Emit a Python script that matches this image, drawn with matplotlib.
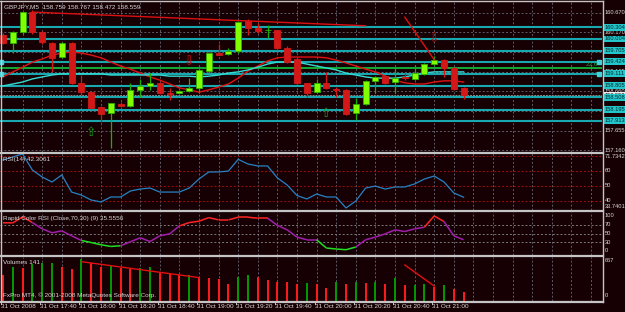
import matplotlib
matplotlib.use('Agg')
import matplotlib.pyplot as plt
import matplotlib.transforms as mtransforms
import matplotlib.font_manager as fm
from matplotlib.collections import LineCollection
from matplotlib.lines import Line2D

# ---------------- data ----------------
title_text = "GBPJPY,M5  158.759 158.767 158.472 158.559"
time_labels = ['31 Oct 2008', '31 Oct 17:40', '31 Oct 18:00', '31 Oct 18:20', '31 Oct 18:40',
               '31 Oct 19:00', '31 Oct 19:20', '31 Oct 19:40', '31 Oct 20:00', '31 Oct 20:20',
               '31 Oct 20:40', '31 Oct 21:00']
time_label_bars = [0, 4, 8, 12, 16, 20, 24, 28, 32, 36, 40, 44]

opens = [160.10, 159.90, 160.18, 160.69, 160.18, 159.90, 159.54, 159.90, 158.88, 158.64,
         158.26, 158.11, 158.34, 158.29, 158.70, 158.80, 158.88, 158.62, 158.62, 158.67,
         158.75, 159.18, 159.64, 159.62, 159.69, 160.46, 160.28, 160.22, 160.23, 159.77,
         159.49, 158.88, 158.64, 158.88, 158.72, 158.70, 158.11, 158.34, 158.93, 159.05,
         158.90, 159.03, 158.98, 159.11, 159.36, 159.46, 159.26, 158.759]
highs = [160.15, 160.21, 160.69, 160.74, 160.21, 159.92, 159.92, 159.92, 159.08, 158.67,
         158.28, 158.36, 158.39, 158.88, 158.98, 159.13, 158.90, 158.75, 158.70, 159.00,
         159.21, 159.67, 159.87, 159.77, 160.46, 160.51, 160.41, 160.36, 160.24, 159.82,
         159.52, 158.88, 158.98, 159.16, 158.77, 158.72, 158.49, 158.95, 159.05, 159.08,
         159.26, 159.13, 159.34, 159.39, 159.57, 159.49, 159.29, 158.767]
lows = [159.87, 159.64, 160.13, 160.13, 159.87, 159.16, 159.52, 158.85, 158.57, 158.21,
        157.88, 157.21, 158.26, 158.26, 158.52, 158.70, 158.59, 158.44, 158.59, 158.64,
        158.64, 159.13, 159.59, 159.59, 159.64, 160.10, 160.16, 160.03, 159.72, 159.39,
        158.85, 158.52, 158.62, 158.72, 158.52, 158.06, 157.93, 158.31, 158.62, 158.85,
        158.62, 158.95, 158.95, 159.08, 159.34, 159.03, 158.70, 158.472]
closes = [159.90, 160.18, 160.69, 160.18, 159.92, 159.52, 159.90, 158.88, 158.64, 158.24,
          158.08, 158.36, 158.29, 158.70, 158.80, 158.88, 158.62, 158.59, 158.67, 158.75,
          159.21, 159.64, 159.60, 159.69, 160.44, 160.28, 160.21, 160.23, 159.77, 159.41,
          158.88, 158.62, 158.88, 158.75, 158.70, 158.08, 158.34, 158.93, 159.03, 158.88,
          159.00, 159.00, 159.13, 159.36, 159.46, 159.26, 158.72, 158.559]

ma_red = [159.03, 159.16, 159.28, 159.41, 159.49, 159.59, 159.64, 159.67, 159.64, 159.59,
          159.52, 159.41, 159.31, 159.23, 159.13, 159.03, 158.95, 158.85, 158.75, 158.70,
          158.64, 158.70, 158.77, 158.85, 159.00, 159.18, 159.31, 159.44, 159.52, 159.54,
          159.54, 159.54, 159.54, 159.52, 159.46, 159.39, 159.31, 159.23, 159.16, 159.05,
          158.95, 158.88, 158.85, 158.85, 158.90, 158.93, 158.93, 158.90]
ma_cyan = [158.80, 158.85, 158.90, 158.98, 159.03, 159.08, 159.11, 159.11, 159.11, 159.11,
           159.11, 159.08, 159.08, 159.08, 159.08, 159.08, 159.08, 159.05, 159.05, 159.05,
           159.03, 159.05, 159.08, 159.13, 159.16, 159.21, 159.28, 159.36, 159.41, 159.41,
           159.41, 159.36, 159.31, 159.26, 159.21, 159.13, 159.08, 159.03, 159.00, 159.00,
           159.00, 159.03, 159.08, 159.13, 159.16, 159.16, 159.16, 159.16]

level_prices = [160.304, 160.004, 159.705, 159.424, 159.111, 158.805, 158.508, 158.195, 157.913]
level_labels = ['160.304', '160.004', '159.705', '159.424', '159.111', '158.805', '158.508', '158.195', '157.913']
fib_price = 159.25
fib_text = '23.6'
marker_prices = [159.424, 159.111]
bid_price = 158.559
price_ticks = [160.670, 160.170, 159.665, 159.165, 158.660, 158.160, 157.655, 157.160]
price_tick_labels = ['160.670', '160.170', '159.665', '159.165', '158.660', '158.160', '157.655', '157.160']

trend1_bars, trend1_prices = [3, 37], [160.69, 160.34]
trend2_bars, trend2_prices = [41, 44], [160.56, 159.47]
down_arrow_bars, down_arrow_prices = [19, 44], [159.42, 159.99]
up_arrow_bars, up_arrow_prices = [9, 33], [157.60, 158.10]

rsi = [67.1, 69.1, 71.1, 60.4, 55.7, 52.4, 57.1, 45.7, 43.7, 40.4,
       39.1, 42.4, 42.4, 46.4, 47.7, 48.4, 45.7, 45.7, 45.7, 48.4,
       54.4, 59.1, 59.1, 59.7, 67.5, 64.4, 63.1, 63.1, 55.1, 50.4,
       43.4, 41.1, 44.4, 42.4, 42.4, 35.1, 39.7, 48.4, 49.7, 47.7,
       49.1, 49.1, 51.1, 54.4, 56.4, 52.4, 45.1, 42.3061]
rsi_max, rsi_min = 71.7342, 33.7401
rsi_levels = [70, 60, 50, 40]
rsi_label = 'RSI(14) 42.3061'

rapid = [75.0, 74.7, 88.6, 75.4, 60.8, 51.6, 56.2, 44.6, 33.8, 29.0,
         23.8, 19.9, 21.5, 30.8, 40.0, 31.4, 44.6, 49.2, 67.7, 75.4,
         78.6, 86.9, 81.6, 81.6, 87.9, 87.9, 85.5, 85.5, 69.0, 58.5,
         41.6, 35.4, 35.4, 16.2, 13.9, 12.3, 18.5, 35.4, 41.6, 49.2,
         58.5, 54.6, 60.8, 64.7, 90.9, 77.7, 44.6, 35.5556]
rapid_levels = [70, 50, 30]
rapid_label = 'Rapid Color RSI (Close,70,30) (9) 35.5556'

volumes = [394, 520, 496, 561, 572, 578, 520, 485, 632, 572,
           520, 531, 505, 485, 505, 510, 429, 409, 394, 400,
           359, 344, 340, 253, 370, 394, 365, 325, 293, 283,
           265, 272, 258, 193, 293, 258, 293, 277, 293, 258,
           344, 243, 248, 258, 217, 243, 177, 141]
vol_max = 667
vol_label = 'Volumes 141'
vtrend1_bars, vtrend1_vals = [8, 20], [596, 355]
vtrend2_bars, vtrend2_vals = [41, 44], [546, 227]
copyright_text = 'FxPro MT4, \u00a9 2001-2008 MetaQuotes Software Corp.'

# ---------------- style ----------------
W, H = 625, 312
BG = '#170004'
GRID = '#5c5c68'
SEP = '#c4c4c4'
TXT = '#d8d8d8'
CYAN_LINE = '#17a8b0'
CYAN_BOX = '#22c6cb'
BULL, BULL_EDGE = '#80ff00', '#2fb000'
BEAR = '#d41818'
FP = fm.FontProperties(family=['Liberation Sans', 'DejaVu Sans'], size=4.6)
FPR = fm.FontProperties(family=['Liberation Sans', 'DejaVu Sans'], size=4.15)

n = len(closes)
xs = list(range(n))
BAR_PX, X0_PX, RIGHT_PX = 9.8, 3.0, 602.0
XMIN = -X0_PX / BAR_PX
XMAX = (RIGHT_PX - X0_PX) / BAR_PX
PRICE_TOP, PX_SCALE = 161.0, 0.0256

fig = plt.figure(figsize=(W / 100, H / 100), dpi=100)
fig.patch.set_facecolor(BG)


def panel(top, bottom):
    ax = fig.add_axes([0, 1 - bottom / H, RIGHT_PX / W, (bottom - top) / H])
    ax.set_facecolor(BG)
    for s in ax.spines.values():
        s.set_visible(False)
    ax.set_xticks([])
    ax.set_yticks([])
    ax.set_xlim(XMIN, XMAX)
    for g in range(2, int(XMAX) + 1, 2):
        ax.axvline(g, color=GRID, lw=0.7, ls=(0, (2, 2)), zorder=0)
    return ax


def rlabel(ax, y, s, va='center', box=None, tc=TXT, z=5, dy=0):
    kw = {}
    if box:
        kw['bbox'] = dict(boxstyle='square,pad=0.15', fc=box, ec='none')
    tr = mtransforms.offset_copy(ax.get_yaxis_transform(), fig=fig, x=0, y=dy, units='points')
    ax.text(1 + 2.5 / RIGHT_PX, y, s, transform=tr, ha='left', va=va, fontproperties=FPR,
            color=tc, zorder=z, clip_on=False, **kw)


# ---------------- main price panel ----------------
ax = panel(1, 152)
ax.set_ylim(PRICE_TOP - PX_SCALE * 152, PRICE_TOP - PX_SCALE * 1)
for p in price_ticks:
    ax.axhline(p, color=GRID, lw=0.7, ls=(0, (2, 2)), zorder=0)
for p, lab in zip(price_ticks, price_tick_labels):
    rlabel(ax, p, lab, z=3)
for p in level_prices:
    ax.axhline(p, color=CYAN_LINE, lw=1.5, zorder=1)
ax.axhline(fib_price, color='#12c83c', lw=1.2, zorder=1)
ax.axhline(bid_price, color='#8a8a8a', lw=0.7, ls=(0, (2, 1)), zorder=1)
ax.text(XMAX - 0.4, fib_price + 0.04, fib_text, ha='right', va='bottom', fontproperties=FP,
        color='#23a04a', zorder=4)
ax.plot([XMIN + 0.15] * len(marker_prices), marker_prices, 's', ms=2.6, color='#3fd2d8', zorder=4, clip_on=False)
ax.plot([XMAX - 0.3] * len(marker_prices), marker_prices, 's', ms=2.6, color='#3fd2d8', zorder=4, clip_on=False)

ax.plot(xs, ma_red, color='#e01212', lw=1.0, zorder=2)
ax.plot(xs, ma_cyan, color='#33dcd2', lw=1.0, zorder=2)

for i in xs:
    o, h, l, c = opens[i], highs[i], lows[i], closes[i]
    bull = c >= o
    wick_c = '#16b000' if bull else BEAR
    ax.vlines(i, l, h, color=wick_c, lw=0.9, zorder=3)
    hgt = max(abs(c - o), 0.004)
    ax.bar(i, hgt, bottom=min(o, c), width=0.62,
           color=BULL if bull else BEAR, edgecolor=BULL_EDGE if bull else BEAR,
           lw=0.6, zorder=4)

ax.plot(trend1_bars, trend1_prices, color='#dc1010', lw=1.0, zorder=5)
ax.plot(trend2_bars, trend2_prices, color='#dc1010', lw=1.0, zorder=5)
for b, p in zip(down_arrow_bars, down_arrow_prices):
    ax.text(b, p, '\u21e9', ha='center', va='center', fontsize=9, family='DejaVu Sans',
            color='#d01010', zorder=6)
for b, p in zip(up_arrow_bars, up_arrow_prices):
    ax.text(b, p, '\u21e7', ha='center', va='center', fontsize=9, family='DejaVu Sans',
            color='#12a012', zorder=6)

ax.text(XMIN + 0.4, PRICE_TOP - PX_SCALE * 6.5, title_text, ha='left', va='center',
        fontproperties=FP, color=TXT, zorder=7)

rlabel(ax, bid_price, '158.559', box='#f0f0f0', tc='#000000', z=8)
for p, lab in zip(level_prices, level_labels):
    rlabel(ax, p, lab, box=CYAN_BOX, tc='#06292b', z=9)

# ---------------- RSI panel ----------------
ax2 = panel(153, 210)
ax2.set_ylim(rsi_min, rsi_max)
for lv in rsi_levels:
    ax2.axhline(lv, color='#a00c0c', lw=0.7, ls=(0, (2, 2)), zorder=1)
ax2.plot(xs, rsi, color='#2782c4', lw=0.9, zorder=3)
ax2.text(XMIN + 0.3, rsi_max - 4.2, rsi_label, ha='left', va='center', fontproperties=FP,
         color=TXT, zorder=5)
rlabel(ax2, rsi_max, '%.4f' % rsi_max, va='top', dy=-0.8)
for lv in [60, 50, 40]:
    rlabel(ax2, lv, str(lv))
rlabel(ax2, rsi_min, '%.4f' % rsi_min, va='bottom', dy=0.8)

# ---------------- Rapid Color RSI panel ----------------
ax3 = panel(212, 255)
ax3.set_ylim(0, 100)
for lv in rapid_levels:
    ax3.axhline(lv, color='#7a7a7a', lw=0.7, ls=(0, (2, 2)), zorder=1)


def zone_color(v):
    if v > 70:
        return '#ff2424'
    if v < 30:
        return '#1fe01f'
    return '#a21fae'


segs = [[(i - 1, rapid[i - 1]), (i, rapid[i])] for i in range(1, n)]
cols = [zone_color(rapid[i]) for i in range(1, n)]
ax3.add_collection(LineCollection(segs, colors=cols, linewidths=1.1, zorder=3))
ax3.text(XMIN + 0.3, 84, rapid_label, ha='left', va='center', fontproperties=FP,
         color=TXT, zorder=5)
rlabel(ax3, 100, '100', va='top', dy=-0.8)
for lv in rapid_levels:
    rlabel(ax3, lv, str(lv))
rlabel(ax3, 0, '0', va='bottom', dy=1.5)

# ---------------- Volumes panel ----------------
ax4 = panel(257, 301)
ax4.set_ylim(0, vol_max)
vcols = ['#ff1c1c' if i == 0 or volumes[i] <= volumes[i - 1] else '#009c00' for i in xs]
ax4.vlines(xs, 0, volumes, colors=vcols, lw=1.4, zorder=3)
ax4.plot(vtrend1_bars, vtrend1_vals, color='#e01010', lw=1.0, zorder=4)
ax4.plot(vtrend2_bars, vtrend2_vals, color='#e01010', lw=1.0, zorder=4)
ax4.text(XMIN + 0.3, vol_max * 0.87, vol_label, ha='left', va='center', fontproperties=FP,
         color=TXT, zorder=5)
ax4.text(XMIN + 0.3, vol_max * 0.13, copyright_text, ha='left', va='center', fontproperties=FP,
         color=TXT, zorder=5)
rlabel(ax4, vol_max, str(vol_max), va='top', dy=-1.0)
rlabel(ax4, 0, '0', va='bottom', dy=2.5)

# ---------------- time axis ----------------
bt = mtransforms.blended_transform_factory(ax4.transData, fig.transFigure)
for b, lab in zip(time_label_bars, time_labels):
    fig.text(b - 0.2, 1 - 307 / H, lab, transform=bt, ha='left', va='center',
             fontproperties=FP, color=TXT)
    fig.add_artist(Line2D([b - 0.2, b - 0.2], [1 - 301 / H, 1 - 304 / H], transform=bt,
                          color=SEP, lw=0.7))


# ---------------- frame / separators ----------------
def hline_px(y, lw=1.5):
    fig.add_artist(Line2D([0, (RIGHT_PX + 1) / W], [1 - y / H, 1 - y / H],
                          transform=fig.transFigure, color=SEP, lw=lw))


hline_px(0.5, 1.0)
for yy in (152.5, 211.0, 256.0, 301.5):
    hline_px(yy, 1.6)
fig.add_artist(Line2D([0.6 / W, 0.6 / W], [1 - 0.5 / H, 1 - 301.5 / H],
                      transform=fig.transFigure, color=SEP, lw=1.0))
fig.add_artist(Line2D([(RIGHT_PX + 0.5) / W] * 2, [1 - 0.5 / H, 1 - 301.5 / H],
                      transform=fig.transFigure, color=SEP, lw=1.0))

fig.savefig('out.png', dpi=100, facecolor=BG)
